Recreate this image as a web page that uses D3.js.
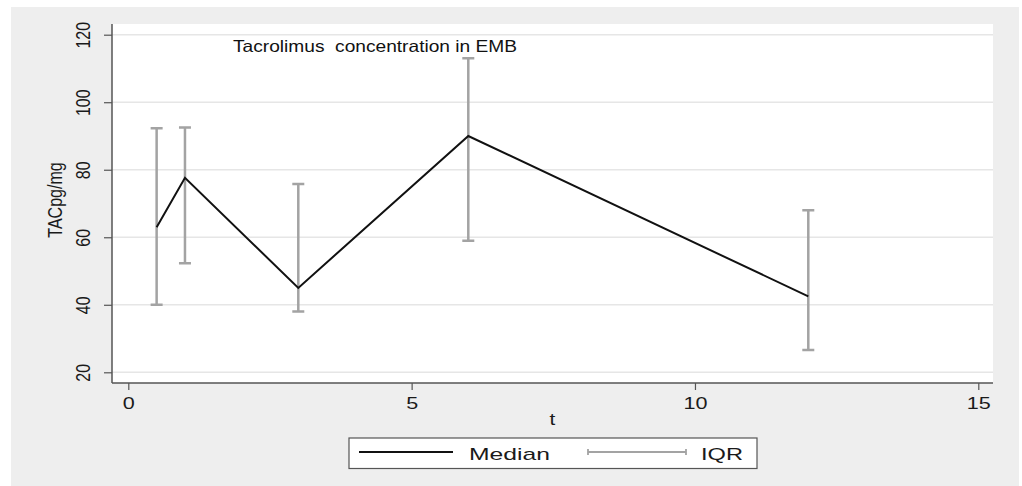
<!DOCTYPE html>
<html>
<head>
<meta charset="utf-8">
<script src="https://cdn.jsdelivr.net/npm/d3@7"></script>
<style>
  html, body { margin: 0; padding: 0; background: #ffffff; }
  svg { display: block; font-family: "Liberation Sans", Arial, sans-serif; }
</style>
</head>
<body>
<svg id="chart" width="1022" height="486"></svg>
<script>
// Tacrolimus concentration in endomyocardial biopsy over time
const timePoints = [0.5, 1, 3, 6, 12];
const medianValues = [63, 77.6, 45, 90, 42.5];
const iqrLow = [40, 52.3, 38, 59, 26.6];
const iqrHigh = [92.3, 92.5, 75.8, 113, 68];
const xTicks = [0, 5, 10, 15];
const yTicks = [20, 40, 60, 80, 100, 120];

const svg = d3.select("#chart");

// outer graph region and white plot region
svg.append("rect").attr("x", 11).attr("y", 7).attr("width", 1008).attr("height", 479).attr("fill", "#eeeeee");
const plot = { left: 112, top: 24, right: 993, bottom: 383 };
svg.append("rect").attr("x", plot.left).attr("y", plot.top)
  .attr("width", plot.right - plot.left).attr("height", plot.bottom - plot.top).attr("fill", "#ffffff");

const x = d3.scaleLinear().domain([0, 15]).range([128.3, 978.3]);
const y = d3.scaleLinear().domain([20, 120]).range([372.3, 34.7]);

// horizontal grid lines
svg.append("g").selectAll("line").data(yTicks).join("line")
  .attr("x1", plot.left).attr("x2", plot.right)
  .attr("y1", d => y(d)).attr("y2", d => y(d))
  .attr("stroke", "#e6e6e6").attr("stroke-width", 1.5);

// y axis
const yAxis = svg.append("g").attr("transform", `translate(${plot.left},0)`)
  .call(d3.axisLeft(y).tickValues(yTicks).tickSize(8).tickFormat(d3.format("d")));
yAxis.select(".domain").attr("d", `M0,${plot.top}V${plot.bottom}`).attr("stroke", "#555").attr("stroke-width", 1.5);
yAxis.selectAll(".tick line").attr("stroke", "#555").attr("stroke-width", 1.2);
yAxis.selectAll(".tick text")
  .attr("x", null).attr("dy", null)
  .attr("text-anchor", "middle")
  .attr("transform", "translate(-22,0) rotate(-90) scale(1,1.3)")
  .attr("font-size", 16).attr("fill", "#1a1a1a");

// x axis
const xAxis = svg.append("g").attr("transform", `translate(0,${plot.bottom})`)
  .call(d3.axisBottom(x).tickValues(xTicks).tickSize(7).tickFormat(d3.format("d")));
xAxis.select(".domain").attr("d", `M${plot.left},0H${plot.right}`).attr("stroke", "#555").attr("stroke-width", 1.5);
xAxis.selectAll(".tick line").attr("stroke", "#555").attr("stroke-width", 1.2);
xAxis.selectAll(".tick text")
  .attr("y", null).attr("dy", null)
  .attr("text-anchor", "middle")
  .attr("transform", "translate(0,26) scale(1.35,1)")
  .attr("font-size", 16).attr("fill", "#1a1a1a");
svg.selectAll(".domain").attr("fill", "none");

// axis titles
svg.append("text").attr("transform", "translate(552.5,425) scale(1.3,1)")
  .attr("text-anchor", "middle").attr("font-size", 16).attr("fill", "#1a1a1a").text("t");
svg.append("text").attr("transform", "translate(62,200) rotate(-90) scale(1,1.25)")
  .attr("text-anchor", "middle").attr("font-size", 16).attr("fill", "#1a1a1a").text("TACpg/mg");

// chart title inside plot region
svg.append("text").attr("x", 233).attr("y", 52)
  .attr("font-size", 16.5).attr("fill", "#111")
  .style("white-space", "pre")
  .attr("textLength", 284).attr("lengthAdjust", "spacingAndGlyphs")
  .text("Tacrolimus  concentration in EMB");

// IQR error bars
const data = timePoints.map((t, i) => ({ t, med: medianValues[i], lo: iqrLow[i], hi: iqrHigh[i] }));
const capHalf = 6;
const bars = svg.append("g").attr("stroke", "#a3a3a3").attr("stroke-width", 2.5).attr("fill", "none");
bars.selectAll("path").data(data).join("path")
  .attr("d", d => {
    const cx = x(d.t), y0 = y(d.lo), y1 = y(d.hi);
    return `M${cx},${y0}V${y1}M${cx - capHalf},${y1}H${cx + capHalf}M${cx - capHalf},${y0}H${cx + capHalf}`;
  });

// median line
svg.append("path").datum(data)
  .attr("fill", "none").attr("stroke", "#111").attr("stroke-width", 2)
  .attr("stroke-linejoin", "miter")
  .attr("d", d3.line().x(d => x(d.t)).y(d => y(d.med)));

// legend
const lg = svg.append("g");
lg.append("rect").attr("x", 349).attr("y", 438).attr("width", 408).attr("height", 30.5)
  .attr("fill", "#ffffff").attr("stroke", "#555").attr("stroke-width", 1.2);
lg.append("line").attr("x1", 359).attr("x2", 453).attr("y1", 452).attr("y2", 452)
  .attr("stroke", "#111").attr("stroke-width", 2);
lg.append("text").attr("x", 469).attr("y", 460).attr("font-size", 17).attr("fill", "#1a1a1a")
  .attr("textLength", 81).attr("lengthAdjust", "spacingAndGlyphs").text("Median");
lg.append("path").attr("d", "M588,452H686M588,449V455M686,449V455")
  .attr("stroke", "#a3a3a3").attr("stroke-width", 1.8).attr("fill", "none");
lg.append("text").attr("x", 701).attr("y", 460).attr("font-size", 17).attr("fill", "#1a1a1a")
  .attr("textLength", 42).attr("lengthAdjust", "spacingAndGlyphs").text("IQR");
</script>
</body>
</html>
